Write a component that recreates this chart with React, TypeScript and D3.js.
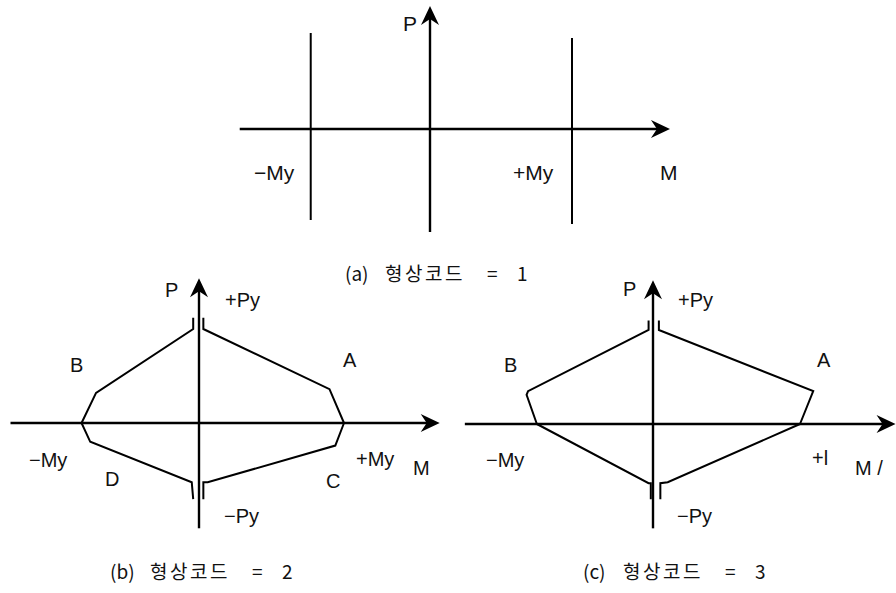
import React from "react";
import * as d3 from "d3";

// ---------- data (M in % of +My, P in % of +Py) ----------
type Pt = [number, number];

// panel (a): shape code 1
const aAxisM: Pt = [-134, 169];
const aAxisP: Pt = [-103, 123];
const aMyLines = [
  { m: -84, p0: -91, p1: 96 },
  { m: 100, p0: -95, p1: 91 },
];

// panel (b): shape code 2
const bAxisM: Pt = [-130, 166];
const bAxisP: Pt = [-112, 154];
const bUpperRight: Pt[] = [[3, 112], [3, 100], [90, 36], [100, 0]];
const bUpperLeft: Pt[] = [[-4, 112], [-4, 100], [-71, 32], [-81, 0]];
const bLowerLeft: Pt[] = [[-81, 0], [-75, -20], [-5, -63], [-4, -81]];
const bLowerRight: Pt[] = [[100, 0], [94, -24], [6, -63], [3, -63], [3, -81]];

// panel (c): shape code 3
const cAxisM: Pt = [-128, 165];
const cAxisP: Pt = [-111, 153];
const cUpperRight: Pt[] = [[4, 110], [4, 100], [109, 35], [100, 0]];
const cUpperLeft: Pt[] = [[-3, 110], [-3, 100], [-85, 35], [-86, 31], [-79, 0]];
const cLowerLeft: Pt[] = [[-79, 0], [-3, -63], [-1.5, -63], [-1.5, -80]];
const cLowerRight: Pt[] = [[100, 0], [10, -62], [5, -63], [5, -80]];

const captionTags = ["(a)", "(b)", "(c)"];
const captionWord = "형상코드";
const captionCodes = ["1", "2", "3"];

// ---------- layout ----------
const W = 896;
const H = 593;
const LATIN = "Arial, 'Liberation Sans', 'Noto Sans CJK KR', sans-serif";
const KOREAN = "'Noto Sans CJK KR', 'Liberation Sans', sans-serif";

const panels = {
  a: { ox: 430, oy: 129, kx: 1.42, ky: 1.0 },
  b: { ox: 199, oy: 423, kx: 1.45, ky: 0.94 },
  c: { ox: 653, oy: 424, kx: 1.47, ky: 0.94 },
};

function scalesFor(p: { ox: number; oy: number; kx: number; ky: number }) {
  const x = d3.scaleLinear().domain([0, 100]).range([p.ox, p.ox + 100 * p.kx]);
  const y = d3.scaleLinear().domain([0, 100]).range([p.oy, p.oy - 100 * p.ky]);
  return { x, y };
}

function arrowPath(tx: number, ty: number, dir: "right" | "up") {
  const L = 19, Wd = 9, notch = 13;
  if (dir === "right") {
    return `M${tx},${ty} L${tx - L},${ty - Wd} L${tx - notch},${ty} L${tx - L},${ty + Wd} Z`;
  }
  return `M${tx},${ty} L${tx - Wd},${ty + L} L${tx},${ty + notch} L${tx + Wd},${ty + L} Z`;
}

function Axes({ s, am, ap }: { s: ReturnType<typeof scalesFor>; am: Pt; ap: Pt }) {
  const x0 = s.x(0), y0 = s.y(0);
  const xl = s.x(am[0]), xr = s.x(am[1]);
  const yb = s.y(ap[0]), yt = s.y(ap[1]);
  return (
    <g>
      <line x1={xl} y1={y0} x2={xr - 8} y2={y0} stroke="#000" strokeWidth={2.6} />
      <path d={arrowPath(xr, y0, "right")} fill="#000" />
      <line x1={x0} y1={yb} x2={x0} y2={yt + 8} stroke="#000" strokeWidth={2.4} />
      <path d={arrowPath(x0, yt, "up")} fill="#000" />
    </g>
  );
}

function Poly({ s, pts }: { s: ReturnType<typeof scalesFor>; pts: Pt[] }) {
  const gen = d3
    .line<Pt>()
    .x((d) => s.x(d[0]))
    .y((d) => s.y(d[1]));
  return <path d={gen(pts) || ""} fill="none" stroke="#000" strokeWidth={2} strokeLinejoin="miter" />;
}

function Label({ x, y, t, size = 20 }: { x: number; y: number; t: string; size?: number }) {
  return (
    <text x={x} y={y} fontFamily={LATIN} fontSize={size} fill="#111">
      {t}
    </text>
  );
}

function Caption({ x, y, i }: { x: number; y: number; i: number }) {
  return (
    <g fontFamily={KOREAN} fontSize={19} fill="#111">
      <text x={x} y={y}>{captionTags[i]}</text>
      <text x={x + 40} y={y} letterSpacing={2.5}>{captionWord}</text>
      <text x={x + 142} y={y}>=</text>
      <text x={x + 172} y={y}>{captionCodes[i]}</text>
    </g>
  );
}

export default function App() {
  const sa = scalesFor(panels.a);
  const sb = scalesFor(panels.b);
  const sc = scalesFor(panels.c);

  return (
    <svg
      width={W}
      height={H}
      viewBox={`0 0 ${W} ${H}`}
      style={{ position: "fixed", left: 0, top: 0, background: "#fff" }}
    >
      <rect x={0} y={0} width={W} height={H} fill="#fff" />

      {/* panel a */}
      <Axes s={sa} am={aAxisM} ap={aAxisP} />
      {aMyLines.map((l, i) => (
        <line
          key={i}
          x1={sa.x(l.m)}
          x2={sa.x(l.m)}
          y1={sa.y(l.p0)}
          y2={sa.y(l.p1)}
          stroke="#000"
          strokeWidth={2}
        />
      ))}
      <Label x={403} y={31} t="P" size={21} />
      <Label x={254} y={180} t="−My" size={21} />
      <Label x={513} y={180} t="+My" size={21} />
      <Label x={660} y={180} t="M" size={21} />
      <Caption x={345} y={281} i={0} />

      {/* panel b */}
      <Axes s={sb} am={bAxisM} ap={bAxisP} />
      <Poly s={sb} pts={bUpperRight} />
      <Poly s={sb} pts={bUpperLeft} />
      <Poly s={sb} pts={bLowerLeft} />
      <Poly s={sb} pts={bLowerRight} />
      <Label x={165} y={297} t="P" />
      <Label x={225} y={307} t="+Py" />
      <Label x={70} y={372} t="B" />
      <Label x={343} y={367} t="A" />
      <Label x={29} y={467} t="−My" />
      <Label x={105} y={486} t="D" />
      <Label x={356} y={466} t="+My" />
      <Label x={413} y={475} t="M" />
      <Label x={326} y={488} t="C" />
      <Label x={224} y={523} t="−Py" />
      <Caption x={110} y={579} i={1} />

      {/* panel c */}
      <Axes s={sc} am={cAxisM} ap={cAxisP} />
      <Poly s={sc} pts={cUpperRight} />
      <Poly s={sc} pts={cUpperLeft} />
      <Poly s={sc} pts={cLowerLeft} />
      <Poly s={sc} pts={cLowerRight} />
      <Label x={623} y={296} t="P" />
      <Label x={678} y={307} t="+Py" />
      <Label x={504} y={372} t="B" />
      <Label x={817} y={367} t="A" />
      <Label x={486} y={467} t="−My" />
      <Label x={812} y={465} t="+l" />
      <Label x={855} y={475} t="M /" />
      <Label x={677} y={523} t="−Py" />
      <Caption x={583} y={579} i={2} />
    </svg>
  );
}
